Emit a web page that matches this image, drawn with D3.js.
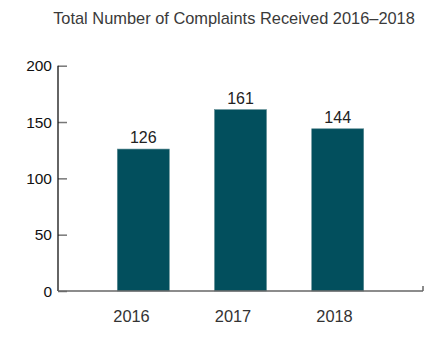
<!DOCTYPE html>
<html>
<head>
<meta charset="utf-8">
<script src="https://cdn.jsdelivr.net/npm/d3@7"></script>
<style>
  html, body { margin: 0; padding: 0; background: #fff; }
  svg { display: block; }
  text { font-family: "Liberation Sans", Arial, Helvetica, sans-serif; }
</style>
</head>
<body>
<script>
const title = "Total Number of Complaints Received 2016\u20132018";
const years = ["2016", "2017", "2018"];
const complaints = [126, 161, 144];
const yTicks = [0, 50, 100, 150, 200];

const W = 439, H = 338;
const svg = d3.select("body").append("svg").attr("width", W).attr("height", H);

const x0 = 58, x1 = 423, yTop = 65.7, yBot = 291;

const x = d3.scaleBand().domain(years).range([x0, x1]).paddingInner(0.465).paddingOuter(0.61);
// category labels sit slightly left of the bar centres in the original
const xLab = d3.scalePoint().domain(years).range([131, 334]);
const y = d3.scaleLinear().domain([0, 200]).range([yBot, yTop]);

svg.append("text")
  .attr("x", 234).attr("y", 24)
  .attr("text-anchor", "middle")
  .attr("font-size", 16.4)
  .attr("fill", "#3a3a3a")
  .text(title);

// bars
svg.selectAll("rect.bar").data(complaints).join("rect")
  .attr("class", "bar")
  .attr("x", (d, i) => x(years[i]))
  .attr("width", x.bandwidth())
  .attr("y", d => y(d))
  .attr("height", d => y(0) - y(d))
  .attr("fill", "#024f5d")
  .attr("stroke", "#5d8a92")
  .attr("stroke-width", 0.6);

// value labels
svg.selectAll("text.val").data(complaints).join("text")
  .attr("class", "val")
  .attr("x", (d, i) => x(years[i]) + x.bandwidth() / 2)
  .attr("y", d => y(d) - 6)
  .attr("text-anchor", "middle")
  .attr("font-size", 16)
  .attr("fill", "#222")
  .text(d => d);

// y axis
const yAxis = d3.axisRight(y).tickValues(yTicks).tickSize(9).tickPadding(0).tickFormat("");
const gy = svg.append("g").attr("transform", `translate(${x0},0)`).call(yAxis);
gy.select(".domain").remove();
gy.selectAll(".tick line").attr("stroke", "#777").attr("stroke-width", 1.5);
svg.append("line").attr("x1", x0).attr("x2", x0).attr("y1", yTop).attr("y2", yBot)
  .attr("stroke", "#111").attr("stroke-width", 1.3);

svg.selectAll("text.ytick").data(yTicks).join("text")
  .attr("class", "ytick")
  .attr("x", x0 - 6).attr("y", d => y(d) + 5.5)
  .attr("text-anchor", "end")
  .attr("font-size", 15.5)
  .attr("fill", "#111")
  .text(d => d);

// x axis baseline
svg.append("line").attr("x1", x0).attr("x2", x1).attr("y1", yBot).attr("y2", yBot)
  .attr("stroke", "#666").attr("stroke-width", 1.5);
svg.append("line").attr("x1", x1).attr("x2", x1).attr("y1", yBot - 5).attr("y2", yBot)
  .attr("stroke", "#666").attr("stroke-width", 1.5);

const xAxis = d3.axisBottom(xLab).tickSize(0).tickPadding(0);
const gx = svg.append("g").attr("transform", `translate(0,${yBot})`).call(xAxis);
gx.select(".domain").remove();
gx.selectAll(".tick text")
  .attr("y", 31)
  .attr("dy", 0)
  .attr("font-size", 16.4)
  .attr("font-family", "Liberation Sans, Arial, sans-serif")
  .attr("fill", "#333");
</script>
</body>
</html>
